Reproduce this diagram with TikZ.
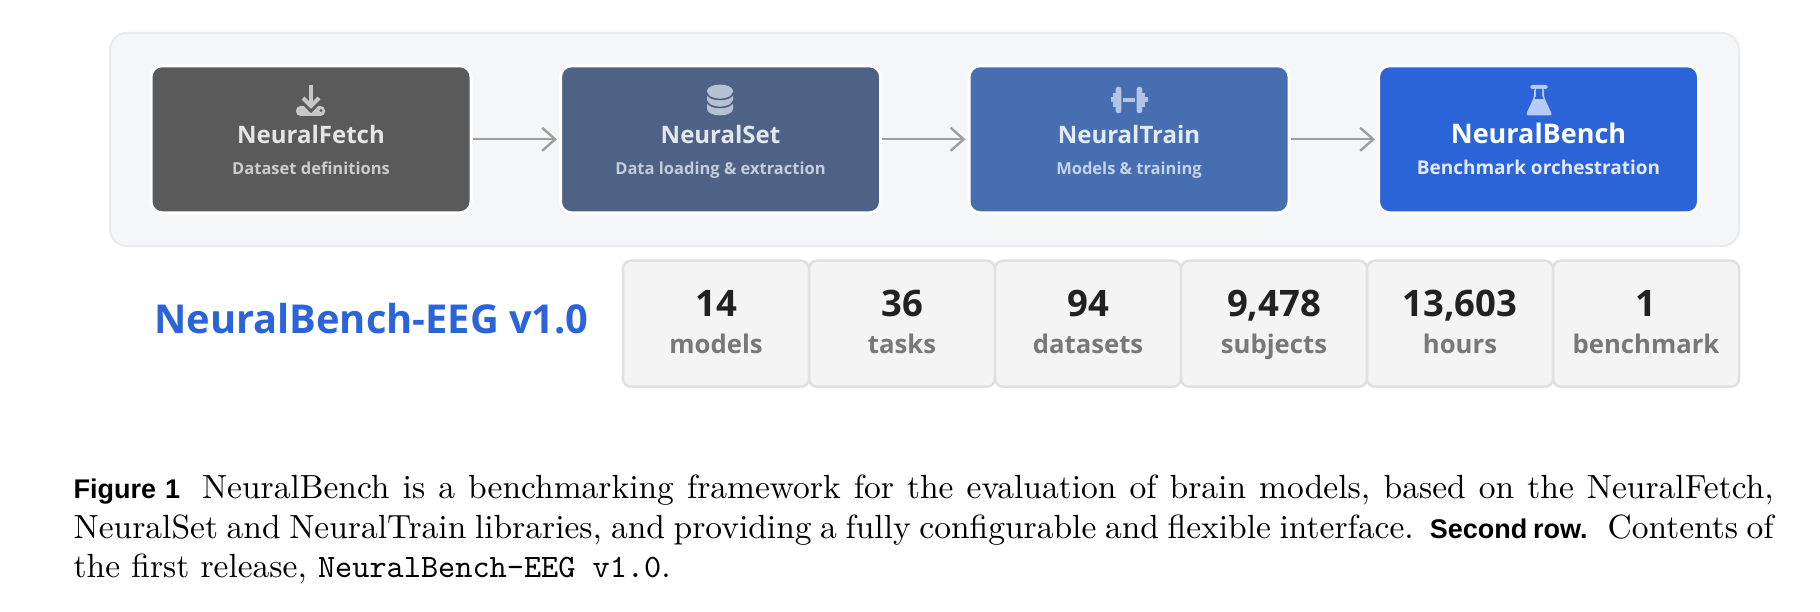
\documentclass[tikz,border=0pt]{standalone}
\usepackage{fontspec}
\usetikzlibrary{arrows.meta, positioning}
\newfontfamily\labelfont{Open Sans}
\newfontfamily\capfont{Liberation Sans}
\newfontfamily\capserif{lmroman10-regular}[Extension=.otf]
\newfontfamily\capmono{lmmono10-regular}[Extension=.otf]
\definecolor{fetchcol}{HTML}{5A5A5A}
\definecolor{setcol}{HTML}{4E6285}
\definecolor{traincol}{HTML}{466EB1}
\definecolor{benchcol}{HTML}{2B63D9}
\definecolor{panelcol}{HTML}{F5F6F8}
\definecolor{panelline}{HTML}{E8EAED}
\definecolor{statcol}{HTML}{F4F4F4}
\definecolor{statline}{HTML}{E0E0E0}
\definecolor{seticoncol}{HTML}{B5C2D4}
\definecolor{trainiconcol}{HTML}{B2C5E4}
\definecolor{benchiconcol}{HTML}{B5CBF2}
\definecolor{setnamecol}{HTML}{E3E7EE}
\definecolor{setnotecol}{HTML}{C2CCDC}
\definecolor{trainnamecol}{HTML}{E3EAF5}
\definecolor{trainnotecol}{HTML}{C4D3EA}
\definecolor{benchnotecol}{HTML}{E2EAFA}
\newcommand{\capbold}[1]{{\capfont\bfseries\fontsize{27}{39}\selectfont #1}}
\tikzset{
  libbox/.style={draw=white, line width=3pt, rounded corners=11pt, minimum width=320pt, minimum height=147pt},
  libname/.style={anchor=base, font=\fontsize{24}{30}\selectfont\labelfont\bfseries},
  libnote/.style={anchor=base, font=\fontsize{16.5}{21}\selectfont\labelfont\bfseries},
  statbox/.style={draw=statline, fill=statcol, line width=2.5pt, rounded corners=8pt, minimum width=186pt, minimum height=126pt},
  statnum/.style={anchor=base, text=black!87, font=\fontsize{36.5}{40}\selectfont\labelfont\bfseries},
  statname/.style={anchor=base, text=black!53, font=\fontsize{25.7}{30}\selectfont\labelfont\bfseries},
  flow/.style={draw=black!38, line width=2.4pt, -{Straight Barb[length=13pt, width=23pt, line width=2.4pt]}},
  fetchicon/.pic={
    \fill[black!22, rounded corners=4.5pt] (-15, 6) rectangle (14, 16);
    \draw[fetchcol, line width=6pt] (-8, 1) -- (0, 9) -- (8, 1);
    \fill[fetchcol] (10, 10.5) circle (1.6);
    \draw[black!22, line width=4pt] (0, -15) -- (0, 6);
    \draw[black!22, line width=4pt] (-8, -2) -- (0, 6) -- (8, -2);
  },
  seticon/.pic={
    \fill[seticoncol] (-13, -9) -- (-13, 9) arc[start angle=180, end angle=0, x radius=13, y radius=6.5]
      -- (13, -9) arc[start angle=0, end angle=-180, x radius=13, y radius=6.5] -- cycle;
    \draw[setcol, line width=1.6pt] (-13, -7) arc[start angle=180, end angle=0, x radius=13, y radius=6.5];
    \draw[setcol, line width=1.6pt] (-13, 1) arc[start angle=180, end angle=0, x radius=13, y radius=6.5];
  },
  trainicon/.pic={
    \fill[trainiconcol] (-6, -1.8) rectangle (6, 1.8);
    \fill[trainiconcol, rounded corners=2pt] (-13.3, -13) rectangle (-7.7, 13);
    \fill[trainiconcol, rounded corners=2pt] (7.7, -13) rectangle (13.3, 13);
    \fill[trainiconcol] (-13.3, -7) rectangle (-16, 7);
    \fill[trainiconcol] (13.3, -7) rectangle (16, 7);
    \fill[trainiconcol] (-16, -2.5) rectangle (-18.5, 2.5);
    \fill[trainiconcol] (16, -2.5) rectangle (18.5, 2.5);
  },
  benchicon/.pic={
    \fill[benchiconcol, rounded corners=1.5pt] (-8.7, -15) rectangle (8.7, -11);
    \fill[benchiconcol, rounded corners=3pt] (-5, -12) -- (-5, -3) -- (-13.5, 15.5) -- (13.5, 15.5) -- (5, -3) -- (5, -12) -- cycle;
    \fill[benchcol] (-3, -11) -- (3, -11) -- (3, -4) -- (4.5, -1) -- (-4.5, -1) -- (-3, -4) -- cycle;
  }
}
\begin{document}
\begin{tikzpicture}[x=1pt, y=-1pt]
\useasboundingbox (0, 0) rectangle (1820, 612);
        % Draw the panel and the libraries
        \node[draw=panelline, fill=panelcol, line width=2pt, rounded corners=17pt, minimum width=1629pt, minimum height=213pt] at (924.5, 139.5) (panel) {};
        \node[libbox, fill=fetchcol] at (311, 139.3) (fetch) {};
        \node[libbox, fill=setcol] at (720.5, 139.3) (set) {};
        \node[libbox, fill=traincol] at (1129, 139.3) (train) {};
        \node[libbox, fill=benchcol] at (1538.5, 139.3) (bench) {};
        % Icons
        \pic at (311, 100) {fetchicon};
        \pic at (720, 100) {seticon};
        \pic at (1129, 100) {trainicon};
        \pic at (1539, 100) {benchicon};
        % Names of the libraries
        \node[libname, text=black!10] at (311, 144) (fetchname) {NeuralFetch};
        \node[libnote, text=black!20] at (311, 175) (fetchnote) {Dataset definitions};
        \node[libname, text=setnamecol] at (720.5, 144) (setname) {NeuralSet};
        \node[libnote, text=setnotecol] at (720.5, 175) (setnote) {Data loading \& extraction};
        \node[libname, text=trainnamecol] at (1129, 144) (trainname) {NeuralTrain};
        \node[libnote, text=trainnotecol] at (1129, 175) (trainnote) {Models \& training};
        \node[libname, text=white, font=\fontsize{27}{32}\selectfont\labelfont\bfseries] at (1538.5, 144) (benchname) {NeuralBench};
        \node[libnote, text=benchnotecol, font=\fontsize{19}{23}\selectfont\labelfont\bfseries] at (1538.5, 175) (benchnote) {Benchmark orchestration};
        % Connect the libraries with arrows
        \draw[flow]
            (fetch) edge[shorten >=2pt] (set)
            (set)   edge[shorten >=2pt] (train)
            (train) edge[shorten >=2pt] (bench);
        % Second row
        \node[anchor=base west, text=benchcol, inner sep=0pt, font=\fontsize{39.8}{44}\selectfont\labelfont\bfseries] at (154, 334) (release) {NeuralBench-EEG v1.0};
        \node[statbox] at (716, 323.7) (models) {};
        \node[statbox] at (902, 323.7) (tasks) {};
        \node[statbox] at (1088, 323.7) (datasets) {};
        \node[statbox] at (1274, 323.7) (subjects) {};
        \node[statbox] at (1460, 323.7) (hours) {};
        \node[statbox] at (1646, 323.7) (benchmark) {};
        \node[statnum] at (716, 316.5) (modelsnum) {14};
        \node[statname] at (716, 353) (modelsname) {models};
        \node[statnum] at (902, 316.5) (tasksnum) {36};
        \node[statname] at (902, 353) (tasksname) {tasks};
        \node[statnum] at (1088, 316.5) (datasetsnum) {94};
        \node[statname] at (1088, 353) (datasetsname) {datasets};
        \node[statnum] at (1274, 316.5) (subjectsnum) {9,478};
        \node[statname] at (1274, 353) (subjectsname) {subjects};
        \node[statnum] at (1460, 316.5) (hoursnum) {13,603};
        \node[statname] at (1460, 353) (hoursname) {hours};
        \node[statnum] at (1646, 316.5) (benchmarknum) {1};
        \node[statname] at (1646, 353) (benchmarkname) {benchmark};
        % Caption
        \node[anchor=north west, inner sep=0pt, text width=1700pt, align=justify, font=\fontsize{33.5}{39.5}\selectfont\capserif] at (73.5, 475) (caption) {%
          \capbold{Figure 1}\hspace{22pt}NeuralBench is a benchmarking framework for the evaluation of brain models, based on the NeuralFetch,\linebreak
          NeuralSet and NeuralTrain libraries, and providing a fully configurable and flexible interface.\hspace{2pt} \capbold{Second row.}\hspace{6pt} Contents of\linebreak
          the first release, {\capmono\fontsize{32.7}{39.5}\selectfont NeuralBench-EEG v1.0}.};
\end{tikzpicture}
\end{document}
